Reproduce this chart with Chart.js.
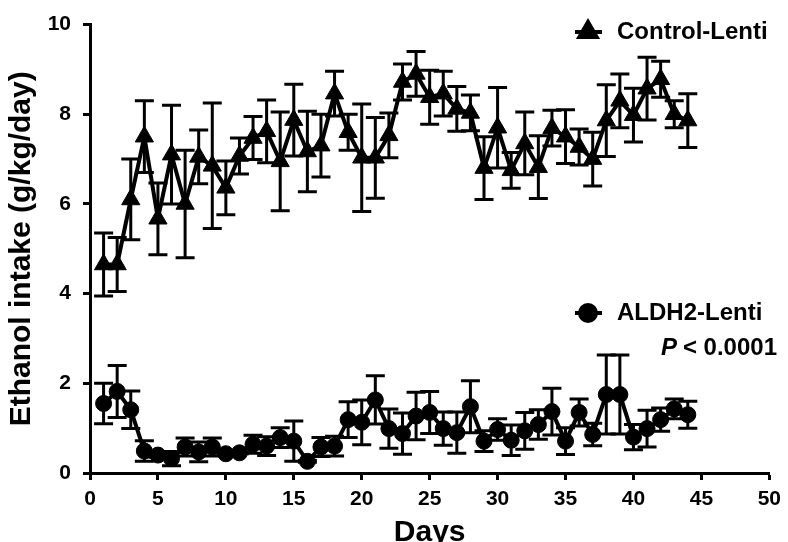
<!DOCTYPE html>
<html>
<head>
<meta charset="utf-8">
<script src="https://cdn.jsdelivr.net/npm/chart.js@4.4.1/dist/chart.umd.min.js"></script>
<style>
  html,body{margin:0;padding:0;background:#fff;}
  #wrap{width:788px;height:542px;}
</style>
</head>
<body>
<div id="wrap"><canvas id="chart" width="788" height="542"></canvas></div>
<script>
// days 1..44
const days=[1,2,3,4,5,6,7,8,9,10,11,12,13,14,15,16,17,18,19,20,21,22,23,24,25,26,27,28,29,30,31,32,33,34,35,36,37,38,39,40,41,42,43,44]

const controlMean=[4.65,4.65,6.1,7.5,5.67,7.1,6.0,7.05,6.85,6.36,7.07,7.47,7.62,6.95,7.87,7.17,7.3,8.46,7.6,7.03,7.03,7.53,8.72,8.9,8.38,8.46,8.12,8.03,6.8,7.7,6.75,7.35,6.82,7.69,7.5,7.27,7.0,7.86,8.3,7.98,8.57,8.78,8.0,7.86]
const controlSem=[0.7,0.6,0.9,0.8,0.8,1.1,1.2,0.6,1.4,0.6,0.4,0.48,0.7,1.1,0.8,0.9,0.7,0.5,0.4,1.2,0.9,0.5,0.4,0.5,0.6,0.5,0.5,0.4,0.7,0.9,0.4,0.7,0.7,0.4,0.6,0.4,0.6,0.8,0.6,0.6,0.7,0.4,0.3,0.6]

const aldhMean=[1.55,1.82,1.41,0.49,0.4,0.32,0.58,0.47,0.58,0.43,0.45,0.64,0.6,0.79,0.71,0.26,0.58,0.6,1.19,1.13,1.63,0.99,0.88,1.27,1.35,0.99,0.9,1.48,0.71,0.97,0.73,0.94,1.08,1.37,0.71,1.35,0.86,1.75,1.75,0.8,0.99,1.19,1.43,1.3]
const aldhSem=[0.45,0.58,0.42,0.23,0.05,0.16,0.2,0.22,0.2,0.02,0.02,0.2,0.21,0.22,0.45,0.02,0.21,0.22,0.4,0.5,0.54,0.44,0.46,0.53,0.47,0.37,0.46,0.58,0.23,0.24,0.34,0.41,0.33,0.52,0.3,0.3,0.25,0.88,0.88,0.28,0.41,0.26,0.22,0.3]

const seriesNames=['Control-Lenti','ALDH2-Lenti']
const pText='< 0.0001'

const FONT='"Liberation Sans", Arial, sans-serif'

function pts(ys){return days.map((d,i)=>({x:d,y:ys[i]}))}

// error bars drawn through the scales
const errorBars={
  id:'errorBars',
  beforeDatasetsDraw(chart){
    const ctx=chart.ctx, xs=chart.scales.x, ys=chart.scales.y
    const sems=[controlSem,aldhSem]
    ctx.save()
    ctx.strokeStyle='#000'
    ctx.lineWidth=3
    chart.data.datasets.forEach((ds,k)=>{
      ds.data.forEach((p,i)=>{
        const px=xs.getPixelForValue(p.x)
        const top=ys.getPixelForValue(p.y+sems[k][i])
        const bot=ys.getPixelForValue(p.y-sems[k][i])
        ctx.beginPath()
        ctx.moveTo(px,top);ctx.lineTo(px,bot)
        ctx.moveTo(px-9.5,top);ctx.lineTo(px+9.5,top)
        ctx.moveTo(px-9.5,bot);ctx.lineTo(px+9.5,bot)
        ctx.stroke()
      })
    })
    ctx.restore()
  }
}

// legends placed like the original figure
const labels={
  id:'labels',
  afterDraw(chart){
    const ctx=chart.ctx
    ctx.save()
    ctx.fillStyle='#000'
    ctx.strokeStyle='#000'
    ctx.textBaseline='middle'
    ctx.font='bold 24px '+FONT
    const items=[
      {y:32,style:'triangle',r:10,name:seriesNames[0]},
      {y:313,style:'circle',r:8,name:seriesNames[1]}
    ]
    items.forEach(it=>{
      ctx.lineWidth=4
      ctx.beginPath();ctx.moveTo(575,it.y);ctx.lineTo(602,it.y);ctx.stroke()
      Chart.helpers.drawPoint(ctx,{pointStyle:it.style,radius:it.r,borderWidth:1},588,it.y)
      ctx.fill()
      ctx.fillText(it.name,617,it.y)
    })
    ctx.textAlign='right'
    ctx.fillText(pText,777,348)
    const w=ctx.measureText(pText).width
    ctx.font='italic bold 24px '+FONT
    ctx.fillText('P',777-w-6,348)
    ctx.restore()
  }
}

new Chart(document.getElementById('chart'),{
  type:'line',
  data:{
    datasets:[
      {label:seriesNames[0],data:pts(controlMean),borderColor:'#000',backgroundColor:'#000',borderWidth:4,
        pointStyle:'triangle',pointRadius:10.5,pointBorderWidth:1,tension:0},
      {label:seriesNames[1],data:pts(aldhMean),borderColor:'#000',backgroundColor:'#000',borderWidth:4,
        pointStyle:'circle',pointRadius:8,pointBorderWidth:1,tension:0}
    ]
  },
  options:{
    responsive:false,
    animation:false,
    clip:false,
    layout:{padding:{left:0,right:15,top:21,bottom:0}},
    plugins:{legend:{display:false},tooltip:{enabled:false}},
    scales:{
      x:{type:'linear',min:0,max:50,
        afterFit(s){s.height=69},
        grid:{display:true,drawOnChartArea:false,drawTicks:true,tickLength:7,tickWidth:3,tickColor:'#000'},
        border:{color:'#000',width:3},
        ticks:{stepSize:5,color:'#000',font:{family:FONT,size:21,weight:'bold'},padding:7},
        title:{display:true,text:'Days',color:'#000',font:{family:FONT,size:30,weight:'bold',lineHeight:1.2},padding:{top:0,bottom:-9}}
      },
      y:{min:0,max:10,
        afterFit(s){s.width=90},
        grid:{display:true,drawOnChartArea:false,drawTicks:true,tickLength:7,tickWidth:3,tickColor:'#000'},
        border:{color:'#000',width:3},
        ticks:{stepSize:2,color:'#000',font:{family:FONT,size:21,weight:'bold'},padding:12},
        title:{display:true,text:'Ethanol intake (g/kg/day)',color:'#000',font:{family:FONT,size:30,weight:'bold',lineHeight:1.2},padding:{top:4,bottom:0}}
      }
    }
  },
  plugins:[errorBars,labels]
})
</script>
</body>
</html>
